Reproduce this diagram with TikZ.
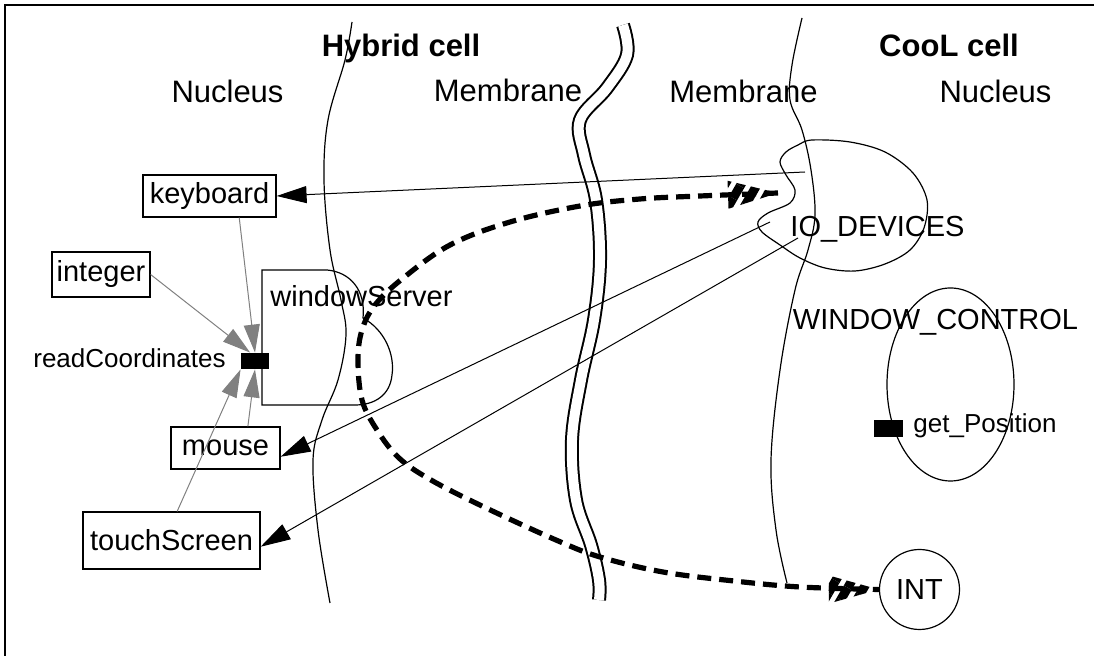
\documentclass[tikz,border=0pt]{standalone}
\usepackage{fontspec}
\setmainfont{Liberation Sans}
\usetikzlibrary{arrows.meta,shapes.geometric,patterns.meta}

\tikzset{
	lbl/.style={inner sep=0pt,font=\fontsize{14.5}{17}\selectfont},
	hdr/.style={inner sep=0pt,font=\fontsize{15.5}{18}\selectfont},
	title/.style={inner sep=0pt,font=\fontsize{15.5}{18}\selectfont\bfseries},
	plbl/.style={inner sep=0pt,font=\fontsize{13}{15}\selectfont},
	box/.style={rectangle,draw,line width=0.6pt,inner sep=0pt,font=\fontsize{14.5}{17}\selectfont},
	port/.style={rectangle,fill=black,inner sep=0pt,minimum width=14pt,minimum height=8pt},
	membrane/.style={line width=0.6pt},
	link/.style={line width=0.5pt,-{Triangle[length=15pt,width=8.5pt]}},
	feed/.style={color=gray,line width=0.5pt,-{Triangle[length=14pt,width=8pt]}},
	flow/.style={line width=2.6pt,dash pattern=on 7pt off 4pt},
	hatch/.style={pattern={Lines[angle=60,distance=7pt,line width=4.5pt]}}
}

\begin{document}
\begin{tikzpicture}[x=0.5pt,y=-0.5pt]
		\useasboundingbox (0,0) rectangle (1094,656);
		\draw[line width=0.8pt] (1094,5) -- (5,5) -- (5,656);

		% membranes
		\draw[membrane] plot[smooth,tension=0.6] coordinates {(352,22) (345,60) (328,120) (324,180) (330,250) (341,300) (346,335) (338,380) (322,420) (313,460) (318,530) (330,603)};
		\draw[line width=1pt,double,double distance=5pt] plot[smooth,tension=0.6] coordinates {(623,25) (627,55) (607,88) (580,120) (584,155) (596,200) (600,260) (594,320) (581,380) (572,440) (576,500) (591,545) (599,580) (599,600)};
		\draw[membrane] plot[smooth,tension=0.6] coordinates {(802,18) (792,65) (790,100) (802,130) (811,170) (815,215) (808,250) (795,290) (780,370) (771,460) (776,530) (787,583)};

		% headings
		\node[title,anchor=base] (hyb) at (401,57) {Hybrid cell};
		\node[title,anchor=base] (cool) at (949,57) {CooL cell};
		\node[hdr,anchor=base] (nucA) at (227.5,103) {Nucleus};
		\node[hdr,anchor=base] (memA) at (508,102) {Membrane};
		\node[hdr,anchor=base] (memB) at (743.5,103) {Membrane};
		\node[hdr,anchor=base] (nucB) at (995.5,103) {Nucleus};

		% hybrid side
		\draw[line width=0.6pt] (262,270) -- (327,270) .. controls (350,272) and (366,290) .. (363,318)
			.. controls (385,330) and (395,355) .. (392,375) .. controls (390,395) and (375,405) .. (355,405) -- (262,405) -- cycle;
		\node[lbl,anchor=base west] (wsLbl) at (270,307) {windowServer};
		\node[box,minimum width=66.5pt,minimum height=21pt] (keyboard) at (209.5,196) {keyboard};
		\node[box,minimum width=49pt,minimum height=22.5pt] (integer) at (101,274.5) {integer};
		\node[box,minimum width=54.5pt,minimum height=21pt] (mouse) at (225.5,448) {mouse};
		\node[box,minimum width=88.5pt,minimum height=28.5pt] (touchScreen) at (171.5,540.5) {touchScreen};
		\node[port] (rc) at (255,361) {};
		\node[plbl,anchor=base east] (rcLbl) at (226,368) {readCoordinates};

		% cool side
		\draw[line width=0.6pt] plot[smooth cycle,tension=0.55] coordinates {(812,140) (850,142) (885,152) (913,173) (927,200) (924,228) (910,250) (885,264) (855,271) (825,268) (800,258) (780,245) (762,232) (758,222) (768,213) (790,203) (795,190) (786,175) (780,162) (786,152) (798,145)};
		\node[lbl,anchor=base] (ioLbl) at (877.5,237) {IO\_DEVICES};
		\node[draw,ellipse,line width=0.6pt,inner sep=0pt,minimum width=63.5pt,minimum height=96.5pt] (wc) at (950.5,384.5) {};
		\node[lbl,anchor=base] (wcLbl) at (935.5,330) {WINDOW\_CONTROL};
		\node[port,minimum width=14.5pt,minimum height=8.5pt] (gp) at (888.5,428.5) {};
		\node[plbl,anchor=base west] (gpLbl) at (913,433) {get\_Position};
		\node[draw,circle,line width=0.6pt,inner sep=0pt,minimum size=40pt,font=\fontsize{14.5}{17}\selectfont] (INT) at (919.5,589.5) {INT};

		\coordinate (kbOut) at (805,172);
		\coordinate (msOut) at (770,222);
		\coordinate (tsOut) at (798,238);
		\coordinate (ioTip) at (778,193);

		% connectors
		\draw[link] (kbOut) -- (keyboard.east);
		\draw[link] (msOut) -- (mouse.-9);
		\draw[link] (tsOut) -- (touchScreen.-4);
		\draw[feed] (keyboard.-36) -- (rc.north);
		\draw[feed] (integer.east) -- (rc.120);
		\draw[feed] (mouse.44) -- (rc.south);
		\draw[feed] (touchScreen.79) -- (rc.south west);
		\draw[flow] plot[smooth,tension=0.6] coordinates {(ioTip) (700,196) (640,199) (580,206) (510,222) (450,245) (402,279) (375,305) (362,330) (358,360) (362,400) (377,430) (399,458) (431,480) (484,507) (556,540) (600,557) (663,572) (734,581) (800,587) (INT.west)};
		\fill[hatch,shift={(ioTip)},rotate=2] (0pt,0pt) -- (-25pt,7pt) -- (-25pt,-7pt) -- cycle;
		\fill[hatch,shift={(INT.west)}] (0pt,0pt) -- (-25pt,7pt) -- (-25pt,-7pt) -- cycle;
\end{tikzpicture}
\end{document}
